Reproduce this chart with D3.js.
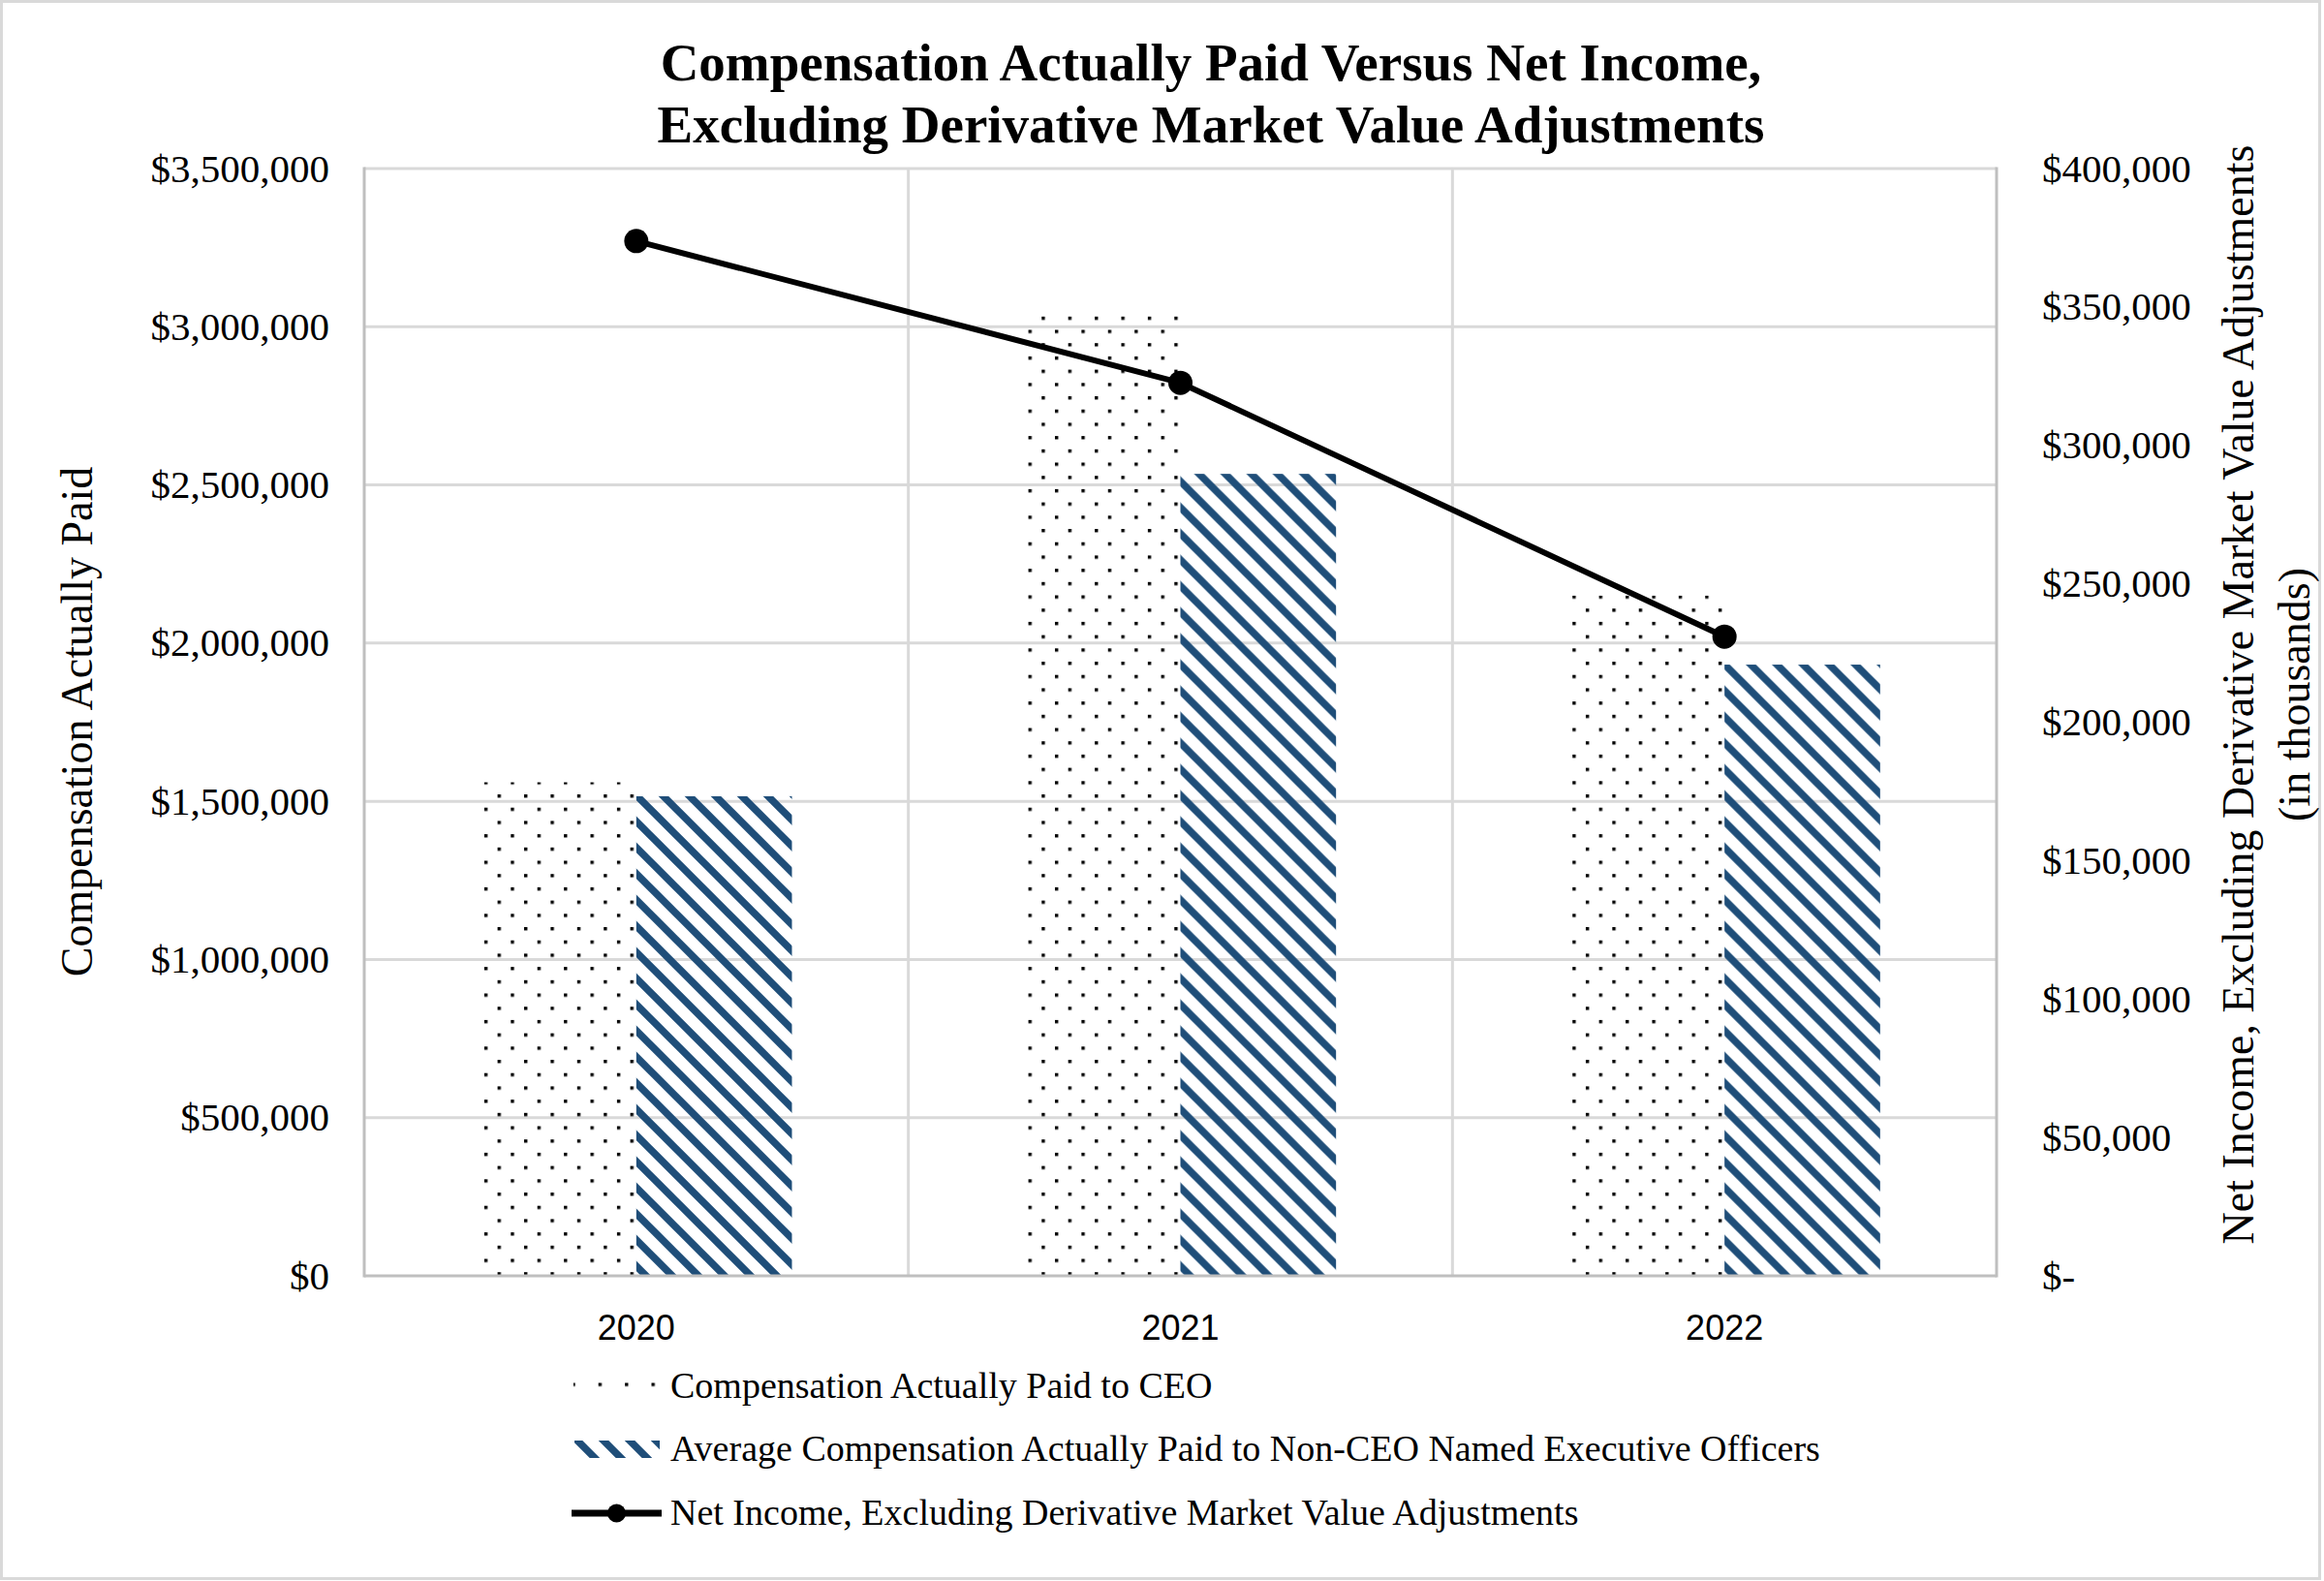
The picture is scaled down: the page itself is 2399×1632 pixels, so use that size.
<!DOCTYPE html>
<html><head><meta charset="utf-8">
<script src="https://cdn.jsdelivr.net/npm/d3@7"></script>
<style>body{margin:0;background:#fff} svg{display:block}</style>
</head><body><svg id="chart" width="2399" height="1632"></svg>
<script>
// ---- data ----
const years = ["2020", "2021", "2022"];
const ceoPay = [1560000, 3035000, 2150000];
const neoPay = [1516000, 2535000, 1932000];
const netIncome = [373800, 322600, 230900];
const leftTicks = [0, 500000, 1000000, 1500000, 2000000, 2500000, 3000000, 3500000];
const rightTicks = [0, 50000, 100000, 150000, 200000, 250000, 300000, 350000, 400000];
const seriesKeys = ["ceo", "neo"];
const legendLabels = [
  "Compensation Actually Paid to CEO",
  "Average Compensation Actually Paid to Non-CEO Named Executive Officers",
  "Net Income, Excluding Derivative Market Value Adjustments"
];
const titleLines = ["Compensation Actually Paid Versus Net Income,", "Excluding Derivative Market Value Adjustments"];
const leftTitle = "Compensation Actually Paid";
const rightTitleLines = ["Net Income, Excluding Derivative Market Value Adjustments", "(in thousands)"];

// ---- layout ----
const W = 2399, H = 1632;
const plot = {left: 376, right: 2061, top: 174, bottom: 1317};
const serif = "'Liberation Serif','Times New Roman',Times,serif";
const sans = "'Liberation Sans',Arial,sans-serif";
const navy = "#1F4E79";

const svg = d3.select("#chart");
svg.append("rect").attr("x", 1.5).attr("y", 1.5).attr("width", W - 6).attr("height", H - 4)
  .attr("fill", "#fff").attr("stroke", "#D9D9D9").attr("stroke-width", 3);

const defs = svg.append("defs");
const dots = defs.append("pattern").attr("id", "dots").attr("patternUnits", "userSpaceOnUse")
  .attr("x", 521.2).attr("y", 326.8).attr("width", 27.4).attr("height", 27.4);
dots.append("rect").attr("x", 0).attr("y", 0).attr("width", 3.4).attr("height", 3.4).attr("fill", "#000");
dots.append("rect").attr("x", 13.7).attr("y", 13.7).attr("width", 3.4).attr("height", 3.4).attr("fill", "#000");
const dotsL = defs.append("pattern").attr("id", "dotsL").attr("patternUnits", "userSpaceOnUse")
  .attr("x", 590.3).attr("y", 1427.5).attr("width", 27.4).attr("height", 27.4);
dotsL.append("rect").attr("x", 0).attr("y", 0).attr("width", 3.4).attr("height", 3.4).attr("fill", "#000");
const stripes = defs.append("pattern").attr("id", "stripes").attr("patternUnits", "userSpaceOnUse")
  .attr("x", 0).attr("y", 0).attr("width", 27).attr("height", 27);
stripes.append("path").attr("d", "M-5,-5L32,32M-5,22L5,32M22,-5L32,5")
  .attr("stroke", navy).attr("stroke-width", 7.5).attr("fill", "none");

// ---- scales ----
const x0 = d3.scaleBand().domain(years).range([plot.left, plot.right]).padding(0);
const x1 = d3.scaleBand().domain(seriesKeys).range([0, x0.bandwidth()]).paddingInner(0).paddingOuter(0.748);
const y = d3.scaleLinear().domain([0, 3500000]).range([plot.bottom, plot.top]);
const y2 = d3.scaleLinear().domain([0, 400000]).range([plot.bottom, plot.top]);

// ---- gridlines ----
const g = svg.append("g");
g.selectAll("line.h").data(leftTicks.slice(1)).join("line")
  .attr("x1", plot.left).attr("x2", plot.right).attr("y1", d => y(d)).attr("y2", d => y(d))
  .attr("stroke", "#D9D9D9").attr("stroke-width", 3);
g.selectAll("line.v").data(years.slice(1)).join("line")
  .attr("x1", d => x0(d)).attr("x2", d => x0(d)).attr("y1", plot.top).attr("y2", plot.bottom)
  .attr("stroke", "#D9D9D9").attr("stroke-width", 3);

// ---- bars ----
const rows = years.map((yr, i) => ({year: yr, ceo: ceoPay[i], neo: neoPay[i]}));
const fills = {ceo: "url(#dots)", neo: "url(#stripes)"};
svg.append("g").selectAll("g").data(rows).join("g")
  .attr("transform", d => `translate(${x0(d.year)},0)`)
  .selectAll("rect").data(d => seriesKeys.map(k => ({k, v: d[k]}))).join("rect")
  .attr("x", d => x1(d.k)).attr("width", x1.bandwidth())
  .attr("y", d => y(d.v)).attr("height", d => y(0) - y(d.v))
  .attr("fill", d => fills[d.k]);

// ---- axis lines ----
const axisG = svg.append("g").attr("stroke", "#BFBFBF").attr("stroke-width", 3);
axisG.append("line").attr("x1", plot.left).attr("x2", plot.left).attr("y1", plot.top - 1.5).attr("y2", plot.bottom + 1.5);
axisG.append("line").attr("x1", plot.right).attr("x2", plot.right).attr("y1", plot.top - 1.5).attr("y2", plot.bottom + 1.5);
axisG.append("line").attr("x1", plot.left).attr("x2", plot.right).attr("y1", plot.bottom).attr("y2", plot.bottom);

// ---- line series ----
const pts = years.map((yr, i) => ({year: yr, v: netIncome[i]}));
const cx = d => x0(d.year) + x0.bandwidth() / 2;
svg.append("path").datum(pts)
  .attr("d", d3.line().x(cx).y(d => y2(d.v)))
  .attr("fill", "none").attr("stroke", "#000").attr("stroke-width", 6).attr("stroke-linejoin", "round");
svg.append("g").selectAll("circle").data(pts).join("circle")
  .attr("cx", cx).attr("cy", d => y2(d.v)).attr("r", 12.5).attr("fill", "#000");

// ---- axis labels ----
const fmt = d3.format(",");
svg.append("g").selectAll("text").data(leftTicks).join("text")
  .attr("x", 340).attr("y", d => y(d)).attr("dy", "0.33em").attr("text-anchor", "end")
  .attr("font-family", serif).attr("font-size", 41).attr("fill", "#000")
  .text(d => "$" + fmt(d));
svg.append("g").selectAll("text").data(rightTicks).join("text")
  .attr("x", 2108).attr("y", d => y2(d)).attr("dy", "0.33em").attr("text-anchor", "start")
  .attr("font-family", serif).attr("font-size", 41).attr("fill", "#000")
  .text(d => d === 0 ? "$-" : "$" + fmt(d));
svg.append("g").selectAll("text").data(years).join("text")
  .attr("x", d => x0(d) + x0.bandwidth() / 2).attr("y", 1383).attr("text-anchor", "middle")
  .attr("font-family", sans).attr("font-size", 36).attr("fill", "#000")
  .text(d => d);

// ---- titles ----
svg.append("g").selectAll("text").data(titleLines).join("text")
  .attr("x", 1250).attr("y", (d, i) => 83 + i * 64).attr("text-anchor", "middle")
  .attr("font-family", serif).attr("font-size", 55).attr("font-weight", "bold").attr("fill", "#000")
  .text(d => d);
svg.append("text").attr("transform", "translate(81,745) rotate(-90)")
  .attr("text-anchor", "middle").attr("dy", "0.3em")
  .attr("font-family", serif).attr("font-size", 46).attr("fill", "#000").text(leftTitle);
svg.append("g").selectAll("text").data(rightTitleLines).join("text")
  .attr("transform", (d, i) => `translate(${2312 + i * 58},717) rotate(-90)`)
  .attr("text-anchor", "middle").attr("dy", "0.3em")
  .attr("font-family", serif).attr("font-size", 46).attr("fill", "#000").text(d => d);

// ---- legend ----
const lg = svg.append("g");
const base = [1443, 1508, 1574];
lg.append("rect").attr("x", 592).attr("y", 1420).attr("width", 89).attr("height", 18).attr("fill", "url(#dotsL)");
lg.append("rect").attr("x", 593).attr("y", 1487).attr("width", 88).attr("height", 18).attr("fill", "url(#stripes)");
lg.append("line").attr("x1", 590).attr("x2", 683).attr("y1", 1562).attr("y2", 1562)
  .attr("stroke", "#000").attr("stroke-width", 7);
lg.append("circle").attr("cx", 636.5).attr("cy", 1562).attr("r", 9.5).attr("fill", "#000");
lg.selectAll("text").data(legendLabels).join("text")
  .attr("x", 692).attr("y", (d, i) => base[i])
  .attr("font-family", serif).attr("font-size", 38).attr("fill", "#000").text(d => d);
</script></body></html>
